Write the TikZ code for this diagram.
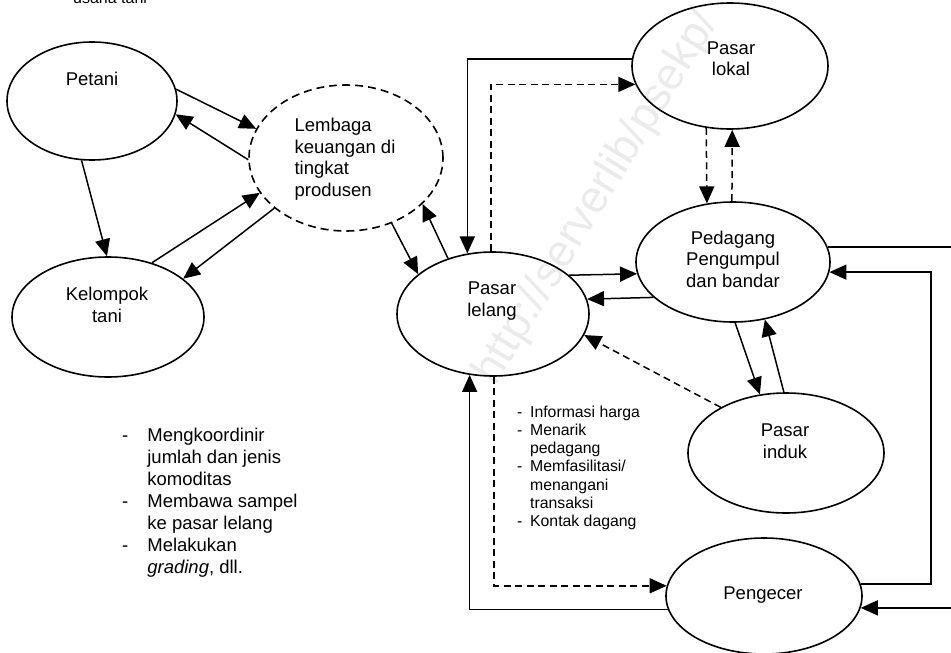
\documentclass[tikz,border=0pt]{standalone}
\usepackage{fontspec}
\setmainfont{Liberation Sans}
\usetikzlibrary{arrows.meta,shapes.geometric}
\begin{document}
\begin{tikzpicture}[x=1pt,y=-1pt,
  ell/.style={draw, ellipse, line width=1.6pt, inner sep=0pt},
  lbl/.style={font=\fontsize{18.5}{21.5}\selectfont, align=center, inner sep=0pt},
  conn/.style={line width=1.5pt, -{Triangle[length=17pt,width=15pt]}},
  dconn/.style={conn, dash pattern=on 7pt off 4.5pt},
]
\useasboundingbox (0,0) rectangle (951,653);
\clip (0,0) rectangle (951,653);

% watermark
\node[rotate=58.5, text=gray!16, font=\fontsize{45}{45}\selectfont, inner sep=0pt] (wm) at (597,198) {http://serverlib/psekp/};

\node[anchor=base west, inner sep=0pt, font=\fontsize{16}{18}\selectfont] (usaha) at (73,3) {usaha tani};

% nodes
\node[ell, minimum width=170pt, minimum height=118pt] (petani) at (92,101) {};
\node[lbl] (petaniT) at (92,79) {Petani};
\node[ell, minimum width=192pt, minimum height=120pt] (kelompok) at (108,317) {};
\node[lbl] (kelompokT) at (107,305) {Kelompok\\tani};
\node[ell, dash pattern=on 8pt off 5pt, minimum width=194pt, minimum height=146pt] (lembaga) at (346,158) {};
\node[lbl, align=left] (lembagaT) at (345,159) {Lembaga\\keuangan di\\tingkat\\produsen};
\node[ell, minimum width=196pt, minimum height=126pt] (lokal) at (730,66) {};
\node[lbl] (lokalT) at (731,58.5) {Pasar\\lokal};
\node[ell, minimum width=194pt, minimum height=120pt] (pedagang) at (733,262) {};
\node[lbl] (pedagangT) at (733,259) {Pedagang\\Pengumpul\\dan bandar};
\node[ell, minimum width=192pt, minimum height=124pt] (lelang) at (493,314) {};
\node[lbl] (lelangT) at (492,301) {Pasar\\lelang};
\node[ell, minimum width=196pt, minimum height=120pt] (induk) at (786,453) {};
\node[lbl] (indukT) at (785,441) {Pasar\\induk};
\node[ell, minimum width=196pt, minimum height=116pt] (pengecer) at (764,596) {};
\node[lbl] (pengecerT) at (763,595) {Pengecer};

\coordinate (outerR) at (965,400);
\coordinate (innerR) at (931,400);

% left cluster
\draw[conn] (petani.8) -- (lembaga.162.5);
\draw[conn] (lembaga.181) -- (petani.-9.2);
\draw[conn] (petani.260.7) -- (kelompok.91);
\draw[conn] (kelompok.51.9) -- (lembaga.202.3);
\draw[conn] (lembaga.215.7) -- (kelompok.27.2);
\draw[conn] (lembaga.-55.8) -- (lelang.152.8);
\draw[conn] (lelang.129.3) -- (lembaga.-31.8);

% right cluster
\draw[conn] (lokal.176.5) -| (lelang.113.5);
\draw[dconn] (lelang.92) |- (lokal.191.5);
\draw[dconn] (lokal.249.4) -- (pedagang.114.2);
\draw[dconn] (pedagang.91) -- (lokal.-88.2);
\draw[conn] (lelang.27.6) -- (pedagang.187.8);
\draw[conn] (pedagang.204.9) -- (lelang.9.8);
\draw[conn] (pedagang.-88) -- (induk.114.7);
\draw[conn] (induk.92.9) -- (pedagang.-61.8);
\draw[dconn] (induk.145.6) -- (lelang.-13);
\draw[conn] (pengecer.188.4) -| (lelang.249.1);
\draw[dconn] (lelang.271.8) |- (pengecer.174.1);
\draw[conn] (pedagang.9.1) -| (outerR) |- (pengecer.-7.1);
\draw[conn] (pengecer.7.75) -| (innerR) |- (pedagang.-6);

% lists
\node[anchor=north west, inner sep=0pt, font=\fontsize{18.5}{22}\selectfont] (leftlist) at (122,426)
 {\begin{tabular}[t]{@{}l@{\hspace{19pt}}l@{}}
 -&Mengkoordinir\\
  &jumlah dan jenis\\
  &komoditas\\
 -&Membawa sampel\\
  &ke pasar lelang\\
 -&Melakukan\\
  &\textit{grading}, dll.
 \end{tabular}};
\node[anchor=north west, inner sep=0pt, font=\fontsize{15.8}{18.3}\selectfont] (midlist) at (517,404)
 {\begin{tabular}[t]{@{}l@{\hspace{7.7pt}}l@{}}
 -&Informasi harga\\
 -&Menarik\\
  &pedagang\\
 -&Memfasilitasi/\\
  &menangani\\
  &transaksi\\
 -&Kontak dagang
 \end{tabular}};
\end{tikzpicture}
\end{document}
